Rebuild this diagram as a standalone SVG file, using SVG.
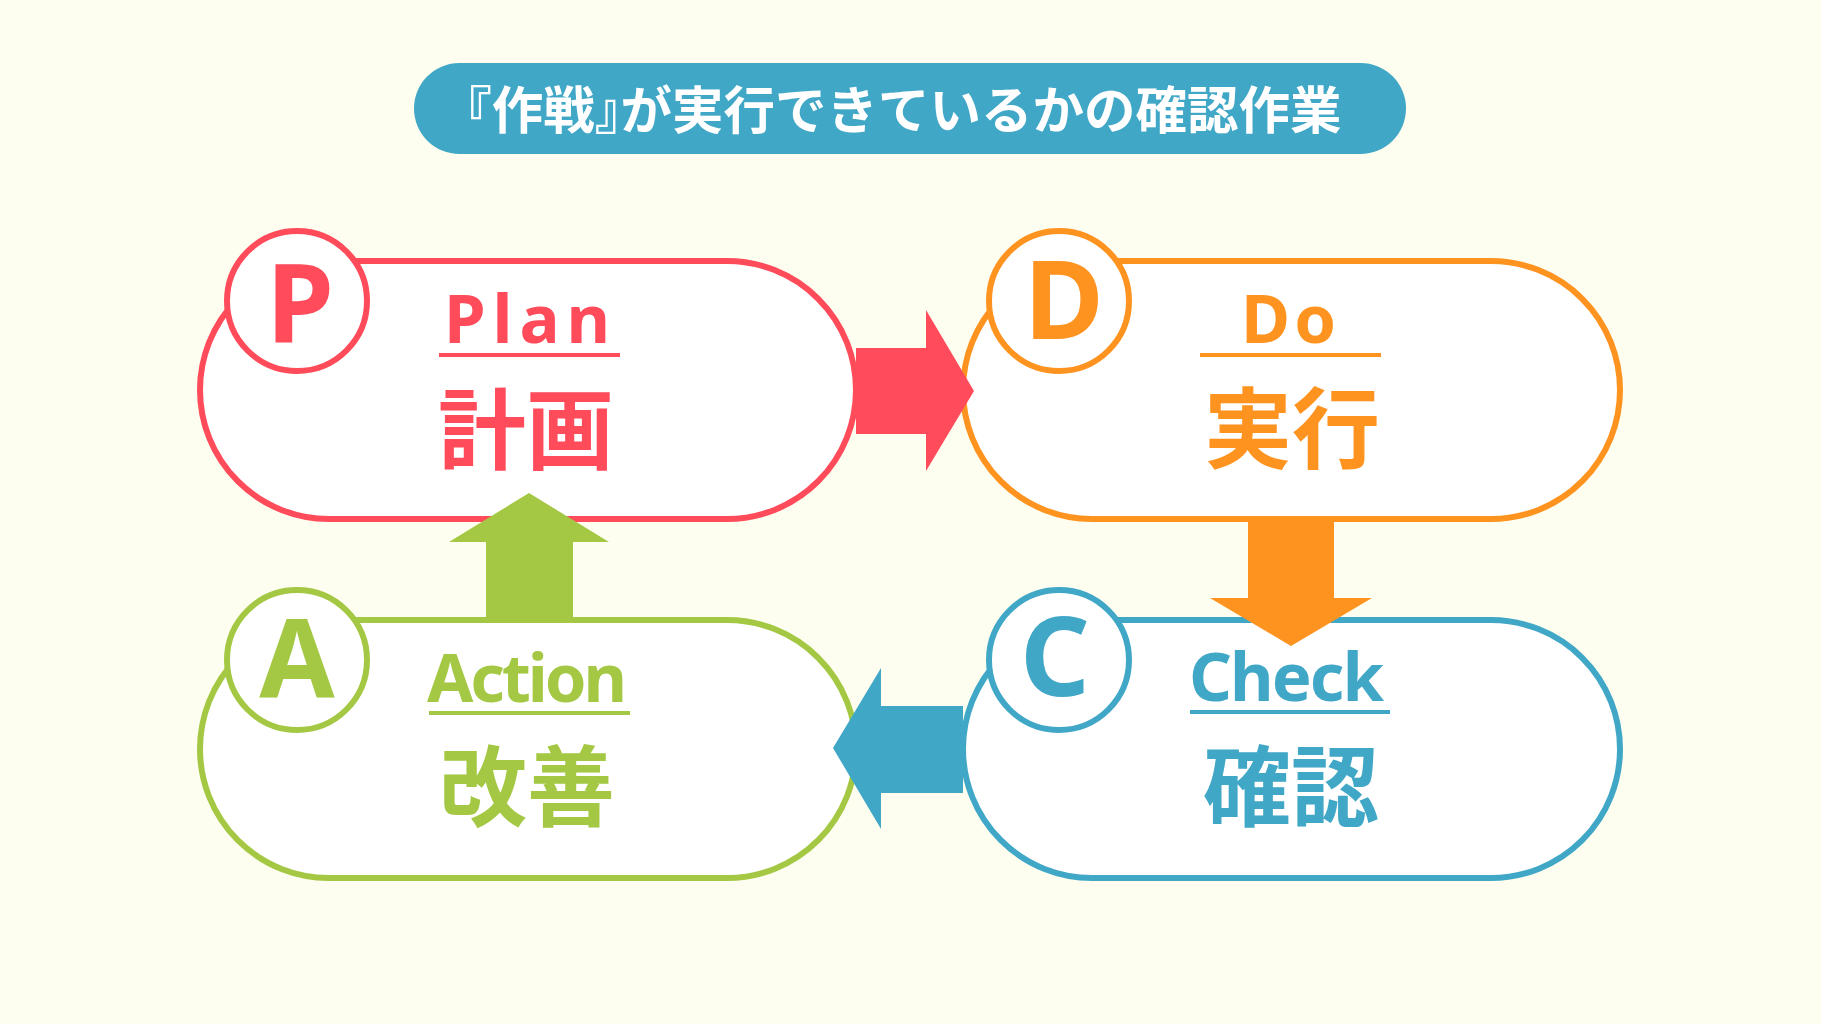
<svg xmlns="http://www.w3.org/2000/svg" width="1821" height="1024" viewBox="0 0 1821 1024">
<style>
.pill{fill:#ffffff;stroke-width:6}
.badge{fill:#ffffff;stroke-width:6}
.big{font-family:"Noto Sans","Liberation Sans",sans-serif;font-weight:700;font-size:109px;text-anchor:middle}
.en{font-family:"Noto Sans","Liberation Sans",sans-serif;font-weight:700;font-size:67px}
.jp{font-family:"Noto Sans CJK JP","Noto Sans",sans-serif;font-weight:700;font-size:88px;text-anchor:middle}
.title{font-family:"Noto Sans CJK JP","Noto Sans",sans-serif;font-weight:700;font-size:51.5px;fill:#ffffff}
.half{font-feature-settings:"halt" 1}
.red{stroke:#FF4B5A}.redf{fill:#FF4B5A}
.org{stroke:#FF9320}.orgf{fill:#FF9320}
.blu{stroke:#41A7C7}.bluf{fill:#41A7C7}
.grn{stroke:#A4C843}.grnf{fill:#A4C843}
</style>
<rect x="0" y="0" width="1821" height="1024" fill="#FEFEF0"/>
<g id="title">
<rect x="414" y="63" width="992" height="91" rx="45.5" class="bluf"/>
<text x="466" y="129" class="title"><tspan class="half">『</tspan>作戦<tspan class="half">』</tspan>が実行できているかの確認作業</text>
</g>
<g id="node-plan">
<rect x="200" y="261" width="656" height="258" rx="129" class="pill red"/>
<circle cx="297" cy="301" r="70" class="badge red"/>
<text x="300" y="343" class="big redf">P</text>
<text x="444" y="343" class="en redf" textLength="166" lengthAdjust="spacing">Plan</text>
<rect x="439" y="353" width="181" height="4" class="redf"/>
<text x="526" y="462" class="jp redf">計画</text>
</g>
<g id="node-do">
<rect x="963" y="261" width="657" height="258" rx="129" class="pill org"/>
<circle cx="1059" cy="301" r="70" class="badge org"/>
<text x="1064" y="339" class="big orgf">D</text>
<text x="1241" y="343" class="en orgf" textLength="95" lengthAdjust="spacing">Do</text>
<rect x="1200" y="353" width="181" height="4" class="orgf"/>
<text x="1292" y="461" class="jp orgf">実行</text>
</g>
<g id="node-check">
<rect x="963" y="620" width="657" height="258" rx="129" class="pill blu"/>
<circle cx="1059" cy="660" r="70" class="badge blu"/>
<text x="1055" y="696" class="big bluf">C</text>
<text x="1189" y="701" class="en bluf" textLength="195" lengthAdjust="spacing">Check</text>
<rect x="1190" y="710" width="200" height="4" class="bluf"/>
<text x="1291" y="819" class="jp bluf">確認</text>
</g>
<g id="node-action">
<rect x="200" y="620" width="656" height="258" rx="129" class="pill grn"/>
<circle cx="297" cy="660" r="70" class="badge grn"/>
<text x="297" y="697" class="big grnf">A</text>
<text x="427" y="702" class="en grnf" textLength="200" lengthAdjust="spacing">Action</text>
<rect x="429" y="711" width="201" height="4" class="grnf"/>
<text x="527" y="819" class="jp grnf">改善</text>
</g>
<g id="connectors">
<polygon class="redf" points="856,348 926,348 926,310 974,391 926,471 926,434 856,434"/>
<polygon class="orgf" points="1248,519 1334,519 1334,598 1372,598 1291,646 1210,598 1248,598"/>
<polygon class="bluf" points="963,706 881,706 881,668 833,748 881,829 881,793 963,793"/>
<polygon class="grnf" points="486,620 486,542 449,542 529,493 609,542 573,542 573,620"/>
</g>
</svg>
